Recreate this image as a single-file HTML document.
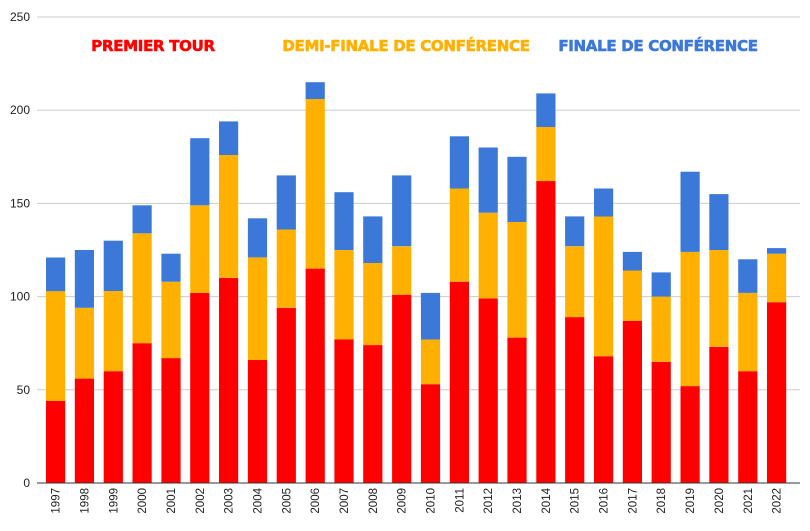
<!DOCTYPE html>
<html><head><meta charset="utf-8"><style>
html,body{margin:0;padding:0;background:#fff;}
svg{display:block;font-family:"Liberation Sans",Arial,sans-serif;}
</style></head><body>
<svg id="c" width="810" height="531" xmlns="http://www.w3.org/2000/svg">
<rect width="810" height="531" fill="#fff"/>
</svg>
<script>
var d=[[44,103,121],[56,94,125],[60,103,130],[75,134,149],[67,108,123],[102,149,185],[110,176,194],[66,121,142],[94,136,165],[115,206,215],[77,125,156],[74,118,143],[101,127,165],[53,77,102],[108,158,186],[99,145,180],[78,140,175],[162,191,209],[89,127,143],[68,143,158],[87,114,124],[65,100,113],[52,124,167],[73,125,155],[60,102,120],[97,123,126]];
var s='';
function Y(v){return 483-v*1.864;}
for(var g=0;g<=250;g+=50){var y=Y(g);
 if(g>0)s+='<line x1="37" x2="800" y1="'+y+'" y2="'+y+'" stroke="#cccccc" stroke-width="1"/>';
 s+='<text x="30" y="'+(y+4)+'" font-size="12" text-anchor="end" fill="#222">'+g+'</text>';}
var cols=['#ff0000','#ffb000','#3c78d8'];
for(var i=0;i<26;i++){var x=46+i*28.84,p=0;
 for(var k=0;k<3;k++){var t=d[i][k];s+='<rect x="'+x.toFixed(1)+'" y="'+Y(t).toFixed(1)+'" width="19.2" height="'+((t-p)*1.864).toFixed(1)+'" fill="'+cols[k]+'"/>';p=t;}
 var cx=x+9.6+4;s+='<text transform="translate('+cx.toFixed(1)+',488) rotate(-90)" font-size="11.5" text-anchor="end" fill="#222">'+(1997+i)+'</text>';}
s+='<line x1="37" x2="800" y1="483" y2="483" stroke="#333" stroke-width="1"/>';
var L=[['PREMIER TOUR',153,'#ff0000'],['DEMI-FINALE DE CONFÉRENCE',406,'#ffb000'],['FINALE DE CONFÉRENCE',658,'#3c78d8']];
L.forEach(function(l){s+='<text x="'+l[1]+'" y="51" font-size="15" font-weight="bold" text-anchor="middle" fill="'+l[2]+'" style="font-family:\'DejaVu Sans\',sans-serif;letter-spacing:-0.3px" stroke="'+l[2]+'" stroke-width="0.6">'+l[0]+'</text>';});
document.getElementById('c').insertAdjacentHTML('beforeend',s);
</script>
</body></html>
